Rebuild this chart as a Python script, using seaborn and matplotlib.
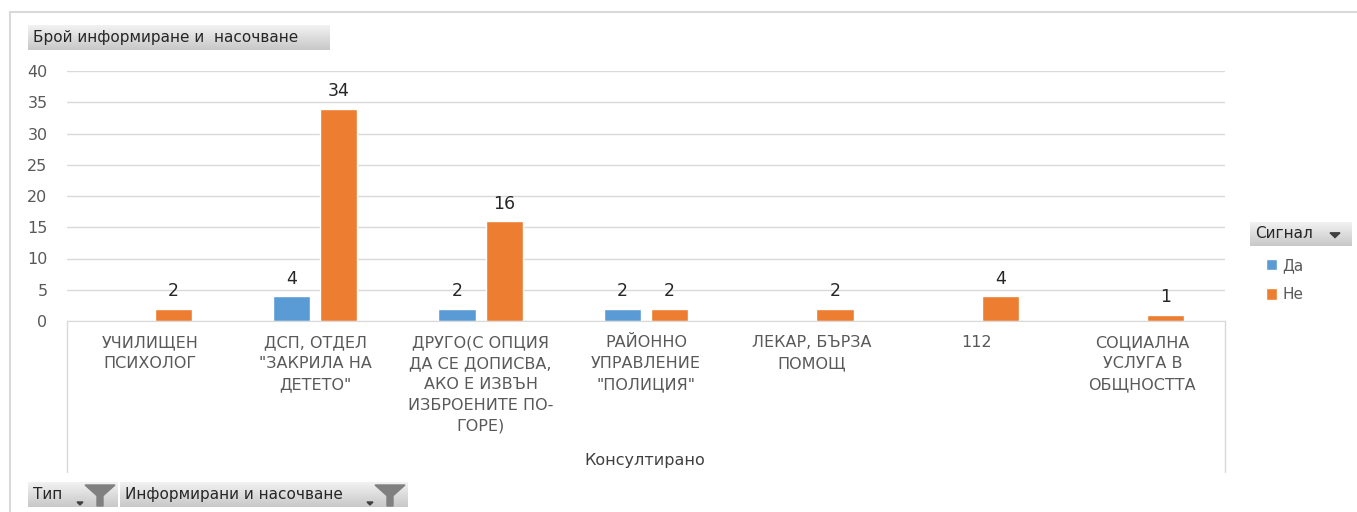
import numpy as np
import pandas as pd
import matplotlib
matplotlib.use("Agg")
import matplotlib.pyplot as plt
import seaborn as sns
from matplotlib.lines import Line2D
from matplotlib.patches import Polygon
from matplotlib.colors import LinearSegmentedColormap

categories = [
    "УЧИЛИЩЕН\nПСИХОЛОГ",
    "ДСП, ОТДЕЛ\n\"ЗАКРИЛА НА\nДЕТЕТО\"",
    "ДРУГО(С ОПЦИЯ\nДА СЕ ДОПИСВА,\nАКО Е ИЗВЪН\nИЗБРОЕНИТЕ ПО-\nГОРЕ)",
    "РАЙОННО\nУПРАВЛЕНИЕ\n\"ПОЛИЦИЯ\"",
    "ЛЕКАР, БЪРЗА\nПОМОЩ",
    "112",
    "СОЦИАЛНА\nУСЛУГА В\nОБЩНОСТТА",
]
signals = ["Да", "Не"]
da_values = [None, 4, 2, 2, None, None, None]
ne_values = [2, 34, 16, 2, 2, 4, 1]
colors = ["#5B9BD5", "#ED7D31"]
yticks = [0, 5, 10, 15, 20, 25, 30, 35, 40]

rows = []
for cat, d, n in zip(categories, da_values, ne_values):
    if d is not None:
        rows.append({"category": cat, "signal": "Да", "value": d})
    if n is not None:
        rows.append({"category": cat, "signal": "Не", "value": n})
df = pd.DataFrame(rows)

W, H = 1357, 512
sns.set_style("white")
plt.rcParams["font.family"] = ["DejaVu Sans"]

fig = plt.figure(figsize=(W / 100, H / 100), dpi=100)
ax = fig.add_axes([67 / W, 1 - 321 / H, (1225 - 67) / W, (321 - 71) / H])

sns.barplot(
    data=df, x="category", y="value", hue="signal",
    order=categories, hue_order=signals, palette=colors,
    width=0.57, gap=0.21, saturation=1, ax=ax,
)

for cont in ax.containers:
    ax.bar_label(cont, padding=6, fontsize=12.5, color="#262626")

ax.set_ylim(0, 40)
ax.set_yticks(yticks)
ax.set_xlim(-0.5, len(categories) - 0.5)
ax.yaxis.grid(True, color="#d9d9d9", lw=1)
ax.set_axisbelow(True)
for s in ["top", "left", "right"]:
    ax.spines[s].set_visible(False)
ax.spines["bottom"].set_color("#d9d9d9")
ax.tick_params(axis="y", length=0, pad=14, labelsize=11.5, labelcolor="#595959")
ax.tick_params(axis="x", length=0, pad=10, labelsize=11.5, labelcolor="#595959")
for t in ax.get_xticklabels():
    t.set_linespacing(1.5)
ax.set_xlabel("")
ax.set_ylabel("")

# legend at right
sns.move_legend(
    ax, "upper left", bbox_to_anchor=(1252 / W, 1 - 244 / H),
    bbox_transform=fig.transFigure, title=None, frameon=False,
    handlelength=0.75, handleheight=0.75, handletextpad=0.35,
    labelspacing=0.95, fontsize=11,
)
for t in ax.get_legend().get_texts():
    t.set_color("#595959")

# category axis box
grey = "#d9d9d9"
for x in (67, 1225):
    fig.add_artist(Line2D([x / W, x / W], [1 - 321 / H, 1 - 472 / H], color=grey, lw=1))
# outer chart border
fig.add_artist(Line2D([10 / W, 10 / W], [0, 1 - 12 / H], color=grey, lw=1.5))
fig.add_artist(Line2D([10 / W, 1], [1 - 12 / H, 1 - 12 / H], color=grey, lw=1.5))

fig.text(645 / W, 1 - 461 / H, "Консултирано", ha="center", va="center",
         fontsize=11.5, color="#404040")

cmap = LinearSegmentedColormap.from_list("btn", ["#f2f2f2", "#c8c8c8"])


def button(x0, y0, x1, y1, label, funnel=False, arrow=False):
    bax = fig.add_axes([x0 / W, 1 - y1 / H, (x1 - x0) / W, (y1 - y0) / H])
    bax.imshow(np.linspace(0, 1, 50).reshape(-1, 1), aspect="auto", cmap=cmap,
               extent=[0, x1 - x0, 0, y1 - y0])
    bax.set_xlim(0, x1 - x0)
    bax.set_ylim(0, y1 - y0)
    bax.axis("off")
    bax.text(5, (y1 - y0) / 2, label, ha="left", va="center", fontsize=11,
             color="#262626")
    h = y1 - y0
    w = x1 - x0
    if funnel:
        fx = w - 33
        bax.add_patch(Polygon([(fx, h - 3), (fx + 30, h - 3), (fx + 18, h * 0.45),
                               (fx + 18, 1), (fx + 12, 1), (fx + 12, h * 0.45)],
                              closed=True, color="#808080"))
        bax.add_patch(Polygon([(fx - 8, 5), (fx - 2, 5), (fx - 5, 2)], closed=True,
                              color="#404040"))
    if arrow:
        bax.add_patch(Polygon([(w - 22, h * 0.55), (w - 12, h * 0.55), (w - 17, h * 0.35)],
                              closed=True, color="#404040"))
    return bax


button(28, 25, 330, 50, "Брой информиране и  насочване")
button(1250, 222, 1352, 246, "Сигнал", arrow=True)
button(28, 482, 118, 507, "Тип", funnel=True)
button(120, 482, 408, 507, "Информирани и насочване", funnel=True)

fig.savefig("out.png", dpi=100)
